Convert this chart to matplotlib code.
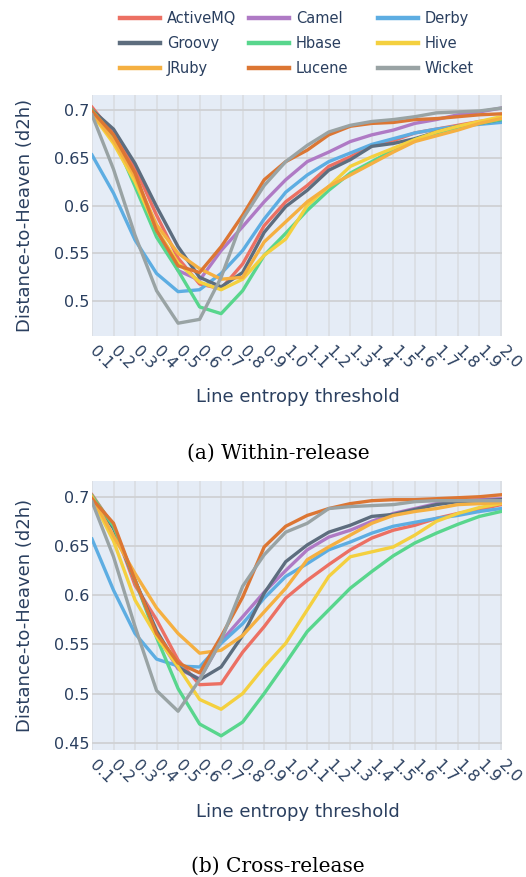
import matplotlib
matplotlib.use('Agg')
import matplotlib.pyplot as plt
from matplotlib.lines import Line2D

# 数据：阈值与各项目的 d2h 值
thresholds = [0.1, 0.2, 0.3, 0.4, 0.5, 0.6, 0.7, 0.8, 0.9, 1.0,
              1.1, 1.2, 1.3, 1.4, 1.5, 1.6, 1.7, 1.8, 1.9, 2.0]
tick_labels = ['0.1', '0.2', '0.3', '0.4', '0.5', '0.6', '0.7', '0.8', '0.9', '1.0',
               '1.1', '1.2', '1.3', '1.4', '1.5', '1.6', '1.7', '1.8', '1.9', '2.0']
projects = ['ActiveMQ', 'Camel', 'Derby', 'Groovy', 'Hbase', 'Hive', 'JRuby', 'Lucene', 'Wicket']
colors = ['#EC7063', '#AF7AC5', '#5DADE2', '#5D6D7E', '#58D68D',
          '#F4D03F', '#F5B041', '#DC7633', '#99A3A4']

# (a) Within-release
within_activemq = [0.703, 0.675, 0.640, 0.590, 0.545, 0.518, 0.513, 0.539, 0.579, 0.604,
                   0.621, 0.641, 0.651, 0.663, 0.668, 0.676, 0.680, 0.684, 0.688, 0.691]
within_camel = [0.700, 0.672, 0.630, 0.575, 0.532, 0.522, 0.553, 0.578, 0.604, 0.627,
                0.646, 0.656, 0.667, 0.674, 0.679, 0.686, 0.690, 0.695, 0.698, 0.702]
within_derby = [0.653, 0.613, 0.564, 0.529, 0.510, 0.512, 0.529, 0.553, 0.586, 0.614,
                0.632, 0.646, 0.655, 0.664, 0.670, 0.676, 0.680, 0.683, 0.685, 0.687]
within_groovy = [0.700, 0.680, 0.644, 0.599, 0.557, 0.525, 0.515, 0.530, 0.572, 0.599,
                 0.616, 0.637, 0.648, 0.662, 0.665, 0.670, 0.677, 0.683, 0.686, 0.690]
within_hbase = [0.700, 0.672, 0.620, 0.567, 0.532, 0.494, 0.487, 0.511, 0.548, 0.571,
                0.595, 0.616, 0.634, 0.646, 0.658, 0.669, 0.676, 0.682, 0.686, 0.690]
within_hive = [0.696, 0.665, 0.625, 0.575, 0.540, 0.520, 0.512, 0.523, 0.548, 0.565,
               0.600, 0.620, 0.641, 0.651, 0.660, 0.669, 0.677, 0.683, 0.688, 0.693]
within_jruby = [0.697, 0.668, 0.630, 0.580, 0.550, 0.534, 0.523, 0.525, 0.562, 0.583,
                0.604, 0.620, 0.632, 0.644, 0.656, 0.667, 0.673, 0.679, 0.686, 0.691]
within_lucene = [0.699, 0.674, 0.634, 0.574, 0.537, 0.530, 0.557, 0.590, 0.627, 0.646,
                 0.658, 0.674, 0.683, 0.686, 0.687, 0.690, 0.691, 0.693, 0.695, 0.696]
within_wicket = [0.695, 0.638, 0.569, 0.511, 0.477, 0.481, 0.525, 0.586, 0.621, 0.646,
                 0.663, 0.677, 0.684, 0.688, 0.690, 0.693, 0.697, 0.698, 0.699, 0.702]

# (b) Cross-release
cross_activemq = [0.702, 0.670, 0.610, 0.575, 0.534, 0.509, 0.510, 0.542, 0.568, 0.597,
                  0.615, 0.631, 0.646, 0.658, 0.666, 0.671, 0.678, 0.683, 0.687, 0.692]
cross_camel = [0.700, 0.668, 0.615, 0.560, 0.525, 0.515, 0.553, 0.578, 0.603, 0.625,
               0.646, 0.659, 0.666, 0.675, 0.683, 0.688, 0.693, 0.696, 0.697, 0.698]
cross_derby = [0.657, 0.605, 0.561, 0.535, 0.528, 0.527, 0.551, 0.571, 0.597, 0.619,
               0.632, 0.646, 0.654, 0.663, 0.670, 0.674, 0.678, 0.681, 0.685, 0.688]
cross_groovy = [0.700, 0.668, 0.615, 0.564, 0.527, 0.514, 0.527, 0.559, 0.602, 0.634,
                0.651, 0.664, 0.671, 0.680, 0.682, 0.687, 0.692, 0.695, 0.696, 0.697]
cross_hbase = [0.701, 0.670, 0.615, 0.557, 0.505, 0.469, 0.457, 0.471, 0.500, 0.531,
               0.563, 0.585, 0.607, 0.624, 0.640, 0.653, 0.663, 0.672, 0.680, 0.685]
cross_hive = [0.698, 0.655, 0.595, 0.558, 0.527, 0.494, 0.484, 0.500, 0.527, 0.551,
              0.585, 0.619, 0.639, 0.644, 0.649, 0.661, 0.675, 0.683, 0.689, 0.693]
cross_jruby = [0.700, 0.660, 0.622, 0.587, 0.561, 0.541, 0.544, 0.559, 0.583, 0.607,
               0.636, 0.649, 0.661, 0.673, 0.681, 0.685, 0.688, 0.692, 0.693, 0.694]
cross_lucene = [0.698, 0.673, 0.615, 0.561, 0.531, 0.521, 0.558, 0.598, 0.649, 0.670,
                0.681, 0.688, 0.693, 0.696, 0.697, 0.697, 0.698, 0.699, 0.700, 0.702]
cross_wicket = [0.695, 0.639, 0.568, 0.503, 0.482, 0.514, 0.554, 0.609, 0.641, 0.664,
                0.673, 0.688, 0.690, 0.691, 0.692, 0.695, 0.696, 0.696, 0.696, 0.696]

within = [within_activemq, within_camel, within_derby, within_groovy, within_hbase,
          within_hive, within_jruby, within_lucene, within_wicket]
cross = [cross_activemq, cross_camel, cross_derby, cross_groovy, cross_hbase,
         cross_hive, cross_jruby, cross_lucene, cross_wicket]

TEXT_COLOR = '#2a3f5f'
BG_COLOR = '#E5ECF6'

plt.rcParams['font.family'] = ['DejaVu Sans']

fig = plt.figure(figsize=(5.26, 8.77), dpi=100)
W, H = 526, 877


def px_axes(left, top, right, bottom):
    """像素坐标 -> figure 坐标"""
    return [left / W, 1 - bottom / H, (right - left) / W, (bottom - top) / H]


def style_axes(ax, ylim, yticks, ytick_labels):
    ax.set_facecolor(BG_COLOR)
    for s in ax.spines.values():
        s.set_visible(False)
    ax.set_xlim(0.1, 2.005)
    ax.set_ylim(*ylim)
    ax.set_xticks(thresholds)
    ax.set_xticklabels(tick_labels, rotation=-45, ha='left', va='center',
                       rotation_mode='anchor')
    ax.set_yticks(yticks)
    ax.set_yticklabels(ytick_labels)
    ax.tick_params(axis='both', length=0, labelsize=11.5, colors=TEXT_COLOR)
    ax.tick_params(axis='x', pad=9)
    ax.tick_params(axis='y', pad=2)
    ax.grid(True, axis='y', color='#cfd1d4', linewidth=1.3)
    ax.grid(True, axis='x', color='#dadde2', linewidth=1.2)
    ax.set_axisbelow(True)
    ax.set_ylabel('Distance-to-Heaven (d2h)', fontsize=13, color=TEXT_COLOR, labelpad=14)


ax1 = fig.add_axes(px_axes(92, 95, 502, 336))
for name, vals, c in zip(projects, within, colors):
    ax1.plot(thresholds, vals, color=c, linewidth=2.4, label=name, solid_joinstyle='round')
style_axes(ax1, (0.4636, 0.7157), [0.5, 0.55, 0.6, 0.65, 0.7],
           ['0.5', '0.55', '0.6', '0.65', '0.7'])

ax2 = fig.add_axes(px_axes(92, 481, 502, 750))
for name, vals, c in zip(projects, cross, colors):
    ax2.plot(thresholds, vals, color=c, linewidth=2.4, label=name, solid_joinstyle='round')
style_axes(ax2, (0.4426, 0.716), [0.45, 0.5, 0.55, 0.6, 0.65, 0.7],
           ['0.45', '0.5', '0.55', '0.6', '0.65', '0.7'])

# 轴标题与图注
fig.text(298 / W, 1 - 397 / H, 'Line entropy threshold', ha='center', va='center',
         fontsize=13, color=TEXT_COLOR)
fig.text(298 / W, 1 - 812 / H, 'Line entropy threshold', ha='center', va='center',
         fontsize=13, color=TEXT_COLOR)
fig.text(278 / W, 1 - 453 / H, '(a) Within-release', ha='center', va='center',
         fontsize=14.5, family='DejaVu Serif', color='black')
fig.text(278 / W, 1 - 866 / H, '(b) Cross-release', ha='center', va='center',
         fontsize=14.5, family='DejaVu Serif', color='black')

# 图例：三列，每列一个 legend
handles = [Line2D([0], [0], color=c, linewidth=3.2) for c in colors]
col_x = [120, 249, 378]
for col in range(3):
    idx = [col, col + 3, col + 6]
    leg = fig.legend([handles[i] for i in idx], [projects[i] for i in idx],
                     loc='upper left', bbox_to_anchor=(col_x[col] / W, 1 - 11 / H),
                     frameon=False, fontsize=10.5, handlelength=2.75,
                     handletextpad=0.45, labelspacing=0.7, borderpad=0,
                     borderaxespad=0)
    for t in leg.get_texts():
        t.set_color(TEXT_COLOR)

fig.savefig('out.png', dpi=100)
